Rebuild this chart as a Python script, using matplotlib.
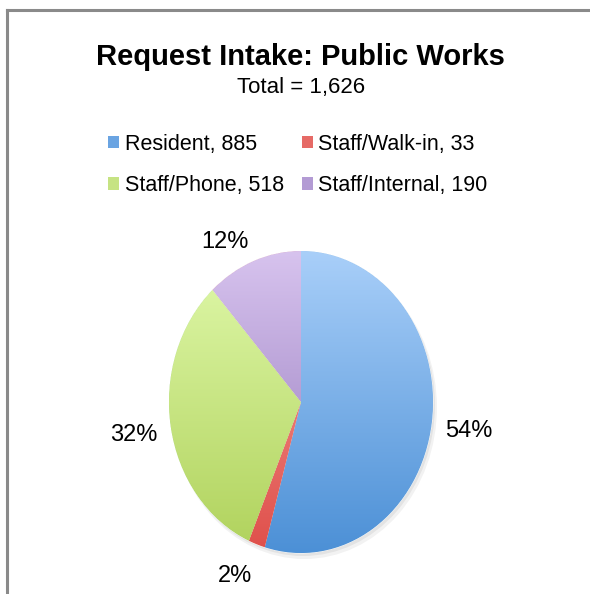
import numpy as np
import matplotlib
matplotlib.use('Agg')
import matplotlib.pyplot as plt
from matplotlib.patches import Patch, Ellipse
from matplotlib.colors import LinearSegmentedColormap

plt.rcParams['font.family'] = ['Liberation Sans', 'DejaVu Sans']

categories = ['Resident', 'Staff/Walk-in', 'Staff/Phone', 'Staff/Internal']
counts = [885, 33, 518, 190]
# gradient colours, top -> bottom
top_colors = ['#a9cff9', '#f6a39f', '#e0f9ab', '#d7c3ee']
bottom_colors = ['#4c90d6', '#df4f4a', '#b0d25c', '#9276ba']
legend_colors = ['#6aa4e2', '#e66a66', '#c6e383', '#b39bd4']

total = sum(counts)

fig = plt.figure(figsize=(5.9, 5.94), dpi=100)

# frame lines (top and left)
fig.add_artist(plt.Line2D([7/590, 1], [1 - 10/594, 1 - 10/594], color='#8a8a8a', lw=2.2))
fig.add_artist(plt.Line2D([7/590, 7/590], [0, 1 - 10/594], color='#8a8a8a', lw=2.2))

fig.text(0.51, 1 - 57/594, 'Request Intake: Public Works', ha='center', va='center',
         fontsize=21, fontweight='bold')
fig.text(0.51, 1 - 88/594, 'Total = {:,}'.format(total), ha='center', va='center', fontsize=16)

handles = [Patch(facecolor=c, edgecolor='none') for c in legend_colors]
labels = ['{}, {}'.format(c, n) for c, n in zip(categories, counts)]
order = [0, 2, 1, 3]  # legend fills column-wise
fig.legend([handles[i] for i in order], [labels[i] for i in order], ncol=2, loc='center',
           bbox_to_anchor=(0.505, 1 - 165/594),
           frameon=False, fontsize=15.5, handlelength=0.5, handleheight=0.5,
           handletextpad=0.25, columnspacing=0.85, labelspacing=0.95)

ax = fig.add_axes([136/590, 3.25/594, 330/590, 377.5/594])
ax.add_patch(Ellipse((0.025, -0.035), 2.01, 2.01, facecolor='#000000', alpha=0.05, lw=0))
ax.add_patch(Ellipse((0.015, -0.02), 2.0, 2.0, facecolor='#000000', alpha=0.06, lw=0))
wedges, texts = ax.pie(counts, startangle=90, counterclock=False,
                       wedgeprops=dict(linewidth=0.6, edgecolor='white'))
ax.set_aspect('auto')

for w, c1, c2 in zip(wedges, top_colors, bottom_colors):
    cmap = LinearSegmentedColormap.from_list('g', [c2, c1])
    grad = np.linspace(0, 1, 256).reshape(-1, 1)
    im = ax.imshow(grad, cmap=cmap, origin='lower', extent=(-1, 1, -1, 1),
                   aspect='auto', zorder=w.get_zorder() + 0.1)
    im.set_clip_path(w)

# percentage labels placed just outside the edge, anchored away from the pie
for w, n in zip(wedges, counts):
    ang = np.deg2rad((w.theta1 + w.theta2) / 2)
    cx, cy = np.cos(ang), np.sin(ang)
    ha = 'left' if cx > 0 else 'right'
    if cy > 0.5:
        va = 'bottom'
    elif cy < -0.5:
        va = 'top'
    else:
        va = 'center'
    ax.text(1.1 * cx, 1.1 * cy - 0.04, '{:.0f}%'.format(100 * n / total),
            ha=ha, va=va, fontsize=17)

ax.set_xlim(-1.25, 1.25)
ax.set_ylim(-1.25, 1.25)
ax.axis('off')

fig.savefig('out.png', dpi=100)
